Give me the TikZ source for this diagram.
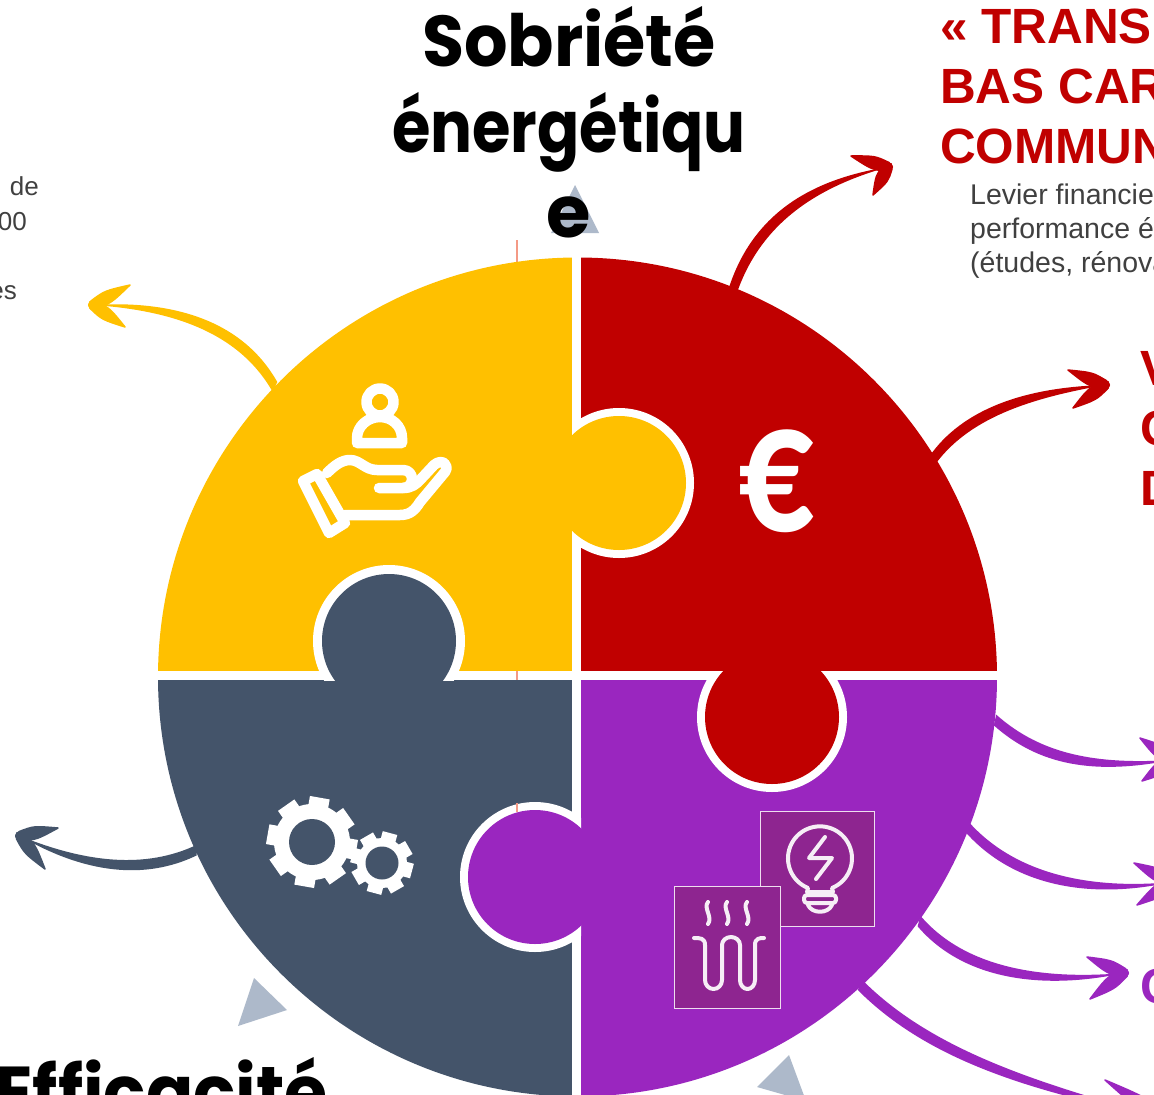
\documentclass[tikz,border=0pt]{standalone}
\usepackage{fontspec}
\setmainfont{Liberation Sans}
\newfontfamily\titlefont{Poppins}[UprightFont=* Bold]
\newfontfamily\eurofont{Carlito}
\usetikzlibrary{calc}
\definecolor{cyel}{HTML}{FFC000}
\definecolor{cred}{HTML}{C00000}
\definecolor{cnav}{HTML}{44546A}
\definecolor{cpur}{HTML}{9A26BF}
\definecolor{cbox}{HTML}{8E2590}
\definecolor{ctri}{HTML}{ADB9CA}
\definecolor{cgry}{HTML}{404040}
\definecolor{cgui}{HTML}{F49A86}
\tikzset{
  titletext/.style={inner sep=0pt,anchor=base,font=\titlefont\fontsize{72}{72}\selectfont,text=black},
  headtext/.style={inner sep=0pt,anchor=base west,font=\bfseries\fontsize{49.5}{49.5}\selectfont,text=cred},
  bodytext/.style={inner sep=0pt,anchor=base west,font=\fontsize{28.5}{28.5}\selectfont,text=cgry},
  sidetext/.style={inner sep=0pt,anchor=base east,font=\fontsize{26}{26}\selectfont,text=cgry},
  iconline/.style={draw=white,line width=10.5pt,line cap=round,line join=round},
  thinicon/.style={draw=white!92!cbox,line width=4pt,line cap=round,line join=round},
  iconbox/.style={fill=cbox,draw=white!85!cbox,line width=.8pt},
  marker/.style={fill=ctri},
  guide/.style={draw=cgui,line width=1.2pt},
}
% tapered shaft: start, control 1, control 2, tip, half width
\newcommand{\shaft}[6][cred]{%
  \coordinate (nn) at ($(#2)!#6pt!90:(#5)$);
  \fill[#1] let \p1=(nn), \p2=(#2) in
    (\x1,\y1) .. controls ($(#3)+(\x1-\x2,\y1-\y2)$) and ($(#4)+(\x1-\x2,\y1-\y2)$) .. (#5)
    .. controls ($(#4)-(\x1-\x2,\y1-\y2)$) and ($(#3)-(\x1-\x2,\y1-\y2)$) .. ($(#2)-(\x1-\x2,\y1-\y2)$) -- cycle;}
% leaf-shaped barb of a hand-drawn arrow head, thick at the tip
\newcommand{\barb}[3][cred]{%
  \coordinate (mm) at ($(#2)!.4!(#3)$);
  \fill[#1,draw=#1,line width=1.5pt,line join=round]
    ($(#2)!4.5pt!90:(#3)$) .. controls ($(mm)!7pt!90:(#3)$) .. (#3)
    .. controls ($(mm)!7pt!-90:(#3)$) .. ($(#2)!4.5pt!-90:(#3)$) -- cycle;
  \fill[#1] (#2) circle [radius=5];}
\begin{document}
\begin{tikzpicture}[x=1pt,y=-1pt]
\useasboundingbox (0,0) rectangle (1154,1095);
\clip (0,0) rectangle (1154,1095);
\fill[white] (0,0) rectangle (1154,1095);

% thin guide line, seen only where the pieces leave it free
\draw[guide] (517,240) -- (517,265);
\draw[guide] (517,671) -- (517,681);

% triangles
\fill[marker] (575,185) -- (551,233) -- (599,233) -- cycle;
\fill[marker] (254,978) -- (287,1010) -- (238,1026) -- cycle;
\fill[marker] (789,1055) -- (757,1087) -- (806,1101) -- cycle;

% quadrants
\begin{scope}
  \clip (577.5,677) circle [radius=419.5];
  \fill[cyel] (100,200) rectangle (572,671);
  \fill[cred] (581,200) rectangle (1050,671);
  \fill[cnav] (100,680) rectangle (572,1150);
  \fill[cpur] (581,680) rectangle (1050,1150);
\end{scope}

% puzzle tabs
\begin{scope}\clip (572,300) rectangle (800,671);
  \fill[white] (619,483) circle [radius=75];\end{scope}
\fill[cyel] (619,483) circle [radius=67];
\begin{scope}\clip (200,400) rectangle (572,680);
  \fill[white] (389,641) circle [radius=76];\end{scope}
\fill[cnav] (389,641) circle [radius=67];
\begin{scope}\clip (581,671) rectangle (900,900);
  \fill[white] (772,717) circle [radius=75];\end{scope}
\fill[cred] (772,717) circle [radius=67];
\begin{scope}\clip (400,700) rectangle (581,1000);
  \fill[white] (535,877) circle [radius=75];\end{scope}
\draw[guide] (517,803) -- (517,812);
\fill[cpur] (535,877) circle [radius=67];

% euro
\node[inner sep=0pt,anchor=base,text=white,font=\eurofont\bfseries\fontsize{140}{140}\selectfont] (euro) at (776,531) {\scalebox{1.07}[1.34]{€}};

% person + hand
\draw[iconline] (380,402) circle [radius=13.5];
\draw[iconline] (357,443) -- (402,443) -- (402,438) .. controls (402,426) and (392,417) .. (380,417)
   .. controls (368,417) and (357,426) .. (357,438) -- cycle;
\draw[iconline] (303,481) -- (317,474) -- (345,523) -- (329,533) -- cycle;
\draw[iconline] (327,473) .. controls (335,465) and (342,460) .. (350,460)
   .. controls (360,460) and (365,470) .. (377,470) -- (403,470)
   .. controls (415,470) and (415,488) .. (403,488) -- (379,488);
\draw[iconline] (403,488) .. controls (412,488) and (416,484) .. (420,480) -- (434,465)
   .. controls (442,458) and (450,465) .. (445,472) -- (420,502)
   .. controls (415,510) and (410,515) .. (400,515) -- (345,515);

% gears
\foreach \a in {10,55,...,325}{
  \fill[white,rotate around={-\a:(312,842)}] (312+35,842-10) rectangle (312+45,842+10);}
\fill[white] (312,842) circle [radius=38];
\fill[cnav] (312,842) circle [radius=23];
\fill[cnav] (382,863) circle [radius=28];
\foreach \a in {15,60,...,330}{
  \fill[white,rotate around={-\a:(382,863)}] (382+22,863-7.5) rectangle (382+31,863+7.5);}
\fill[white] (382,863) circle [radius=25];
\fill[cnav] (382,863) circle [radius=16.5];

% icon boxes
\draw[iconbox] (760,811) rectangle (874,926);
\draw[thinicon] (808,888) arc [start angle=112,end angle=428,radius=32] -- (833,892) -- (807,892) -- cycle;
\draw[thinicon] (825,837) -- (809,858) -- (832,858) -- (816,879);
\draw[thinicon,rounded corners=3pt] (804,895) rectangle (836,903);
\draw[thinicon] (808,905) .. controls (812,914) and (828,914) .. (832,905);
\draw[iconbox] (674,886) rectangle (780,1008);
\foreach \x in {708,727,747}{
  \draw[thinicon] (\x,902) .. controls (\x-5,908) and (\x+5,917) .. (\x,924);}
\draw[thinicon] (694,938) .. controls (700,938) and (705,938) .. (705,945) -- (705,980)
  arc [start angle=180,end angle=360,x radius=8.5,y radius=-9] -- (722,945)
  arc [start angle=180,end angle=0,x radius=9,y radius=-8] -- (740,980)
  arc [start angle=180,end angle=360,x radius=7.5,y radius=-9] -- (755,945)
  .. controls (755,938) and (760,938) .. (764,938);

% arrows
\coordinate (r1s) at (733,290); \coordinate (r1t) at (888,167);
\shaft[cred]{r1s}{755,225}{805,185}{r1t}{5.5}
\coordinate (r1a) at (851,156); \coordinate (r1b) at (873,195);
\barb[cred]{r1t}{r1a} \barb[cred]{r1t}{r1b}

\coordinate (r2s) at (934,458); \coordinate (r2t) at (1105,385);
\shaft[cred]{r2s}{970,410}{1035,392}{r2t}{5.5}
\coordinate (r2a) at (1068,370); \coordinate (r2b) at (1073,408);
\barb[cred]{r2t}{r2a} \barb[cred]{r2t}{r2b}

\coordinate (y1s) at (275,387); \coordinate (y1t) at (93,305);
\shaft[cyel]{y1s}{240,325}{170,305}{y1t}{5.5}
\coordinate (y1a) at (130,285); \coordinate (y1b) at (125,327);
\barb[cyel]{y1t}{y1a} \barb[cyel]{y1t}{y1b}

\coordinate (n1s) at (197,850); \coordinate (n1t) at (20,836);
\shaft[cnav]{n1s}{145,875}{85,868}{n1t}{5.5}
\coordinate (n1a) at (58,828); \coordinate (n1b) at (45,869);
\barb[cnav]{n1t}{n1a} \barb[cnav]{n1t}{n1b}

\coordinate (p1s) at (995,720); \coordinate (p1t) at (1172,760);
\shaft[cpur]{p1s}{1040,760}{1095,770}{p1t}{5.5}
\coordinate (p1a) at (1140,738); \coordinate (p1b) at (1142,781);
\barb[cpur]{p1t}{p1a} \barb[cpur]{p1t}{p1b}

\coordinate (p2s) at (968,828); \coordinate (p2t) at (1172,882);
\shaft[cpur]{p2s}{1015,880}{1090,895}{p2t}{5.5}
\coordinate (p2a) at (1134,863); \coordinate (p2b) at (1137,905);
\barb[cpur]{p2t}{p2a} \barb[cpur]{p2t}{p2b}

\coordinate (p3s) at (919,921); \coordinate (p3t) at (1124,973);
\shaft[cpur]{p3s}{965,975}{1045,985}{p3t}{5.5}
\coordinate (p3a) at (1087,957); \coordinate (p3b) at (1090,999);
\barb[cpur]{p3t}{p3a} \barb[cpur]{p3t}{p3b}

\coordinate (p4s) at (860,985); \coordinate (p4t) at (1165,1118);
\shaft[cpur]{p4s}{925,1050}{1020,1085}{p4t}{5.5}
\coordinate (p4a) at (1105,1080); \coordinate (p4b) at (1120,1130);
\barb[cpur]{p4t}{p4a} \barb[cpur]{p4t}{p4b}

% titles
\node[titletext] (t1) at (569,66) {\scalebox{.95}[1]{Sobriété}};
\node[titletext] (t2) at (569,152) {\scalebox{.865}[1]{énergétiqu}};
\node[titletext] (t3) at (569,237) {e};
\node[titletext,anchor=base west] (t4) at (-5,1117) {\scalebox{.97}[1]{Efficacité}};

% red heads
\node[headtext] (h1) at (940,43) {« TRANS};
\node[headtext] (h2) at (940,103) {BAS CAR};
\node[headtext] (h3) at (940,163) {COMMUN};
\node[bodytext] (b1) at (970,204) {Levier financie};
\node[bodytext] (b2) at (970,238) {performance é};
\node[bodytext] (b3) at (970,272) {(études, rénova};
\node[headtext] (v1) at (1140,385) {V};
\node[headtext] (v2) at (1140,445) {C};
\node[headtext] (v3) at (1140,505) {D};
\node[headtext,text=cpur] (c1) at (1140,1003) {C};

% left text
\node[sidetext] (s1) at (39,195) {de};
\node[sidetext] (s2) at (27,230) {00};
\node[sidetext] (s3) at (17,299) {es};
\end{tikzpicture}
\end{document}
